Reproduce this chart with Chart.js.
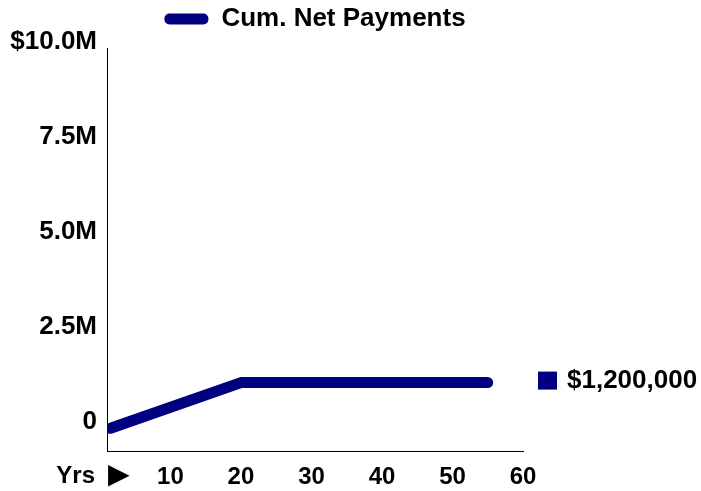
<!DOCTYPE html>
<html>
<head>
<meta charset="utf-8">
<script src="https://cdn.jsdelivr.net/npm/chart.js@4/dist/chart.umd.min.js"></script>
<style>
  html, body { margin: 0; padding: 0; background: #fff; }
  #wrap { width: 701px; height: 491px; }
</style>
</head>
<body>
<div id="wrap"><canvas id="c" width="701" height="491"></canvas></div>
<script>
const years = [1.5, 20, 55];
const cumNetPayments = [0, 1200000, 1200000];
const seriesLabel = 'Cum. Net Payments';
const xTicks = [1, 10, 20, 30, 40, 50, 60];
const xTickLabels = ['', '10', '20', '30', '40', '50', '60'];
const xAxisWord = 'Yrs';
const xAxisArrow = '\u25BA';
const yTicks = [0, 2500000, 5000000, 7500000, 10000000];
const yTickLabels = ['0', '2.5M', '5.0M', '7.5M', '$10.0M'];
const endLabel = '$1,200,000';

const NAVY = '#000080';
const FONT = '"Liberation Sans", Arial, sans-serif';

const extraTextPlugin = {
  id: 'extraText',
  afterDraw(chart) {
    const ctx = chart.ctx;
    const xs = chart.scales.x;
    const ys = chart.scales.y;
    const area = chart.chartArea;
    ctx.save();
    // end-of-series value label
    const v = cumNetPayments[cumNetPayments.length - 1];
    const py = ys.getPixelForValue(v) - 2;
    ctx.fillStyle = NAVY;
    ctx.fillRect(area.right + 15, py - 9, 19, 18);
    ctx.fillStyle = '#000';
    ctx.font = 'bold 26px ' + FONT;
    ctx.textBaseline = 'middle';
    ctx.textAlign = 'left';
    ctx.fillText(endLabel, area.right + 44, py);
    // "Yrs ►" at the start of the x axis
    const x0 = xs.getPixelForValue(xTicks[0]);
    const ty = area.bottom + 25;
    ctx.font = 'bold 24px ' + FONT;
    ctx.textAlign = 'right';
    ctx.fillText(xAxisWord, x0 - 12, ty);
    ctx.font = 'bold 36px ' + FONT;
    ctx.textAlign = 'left';
    ctx.fillText(xAxisArrow, x0 - 6, ty);
    ctx.restore();
  }
};

new Chart(document.getElementById('c'), {
  type: 'line',
  data: {
    datasets: [{
      label: seriesLabel,
      data: years.map((x, i) => ({ x: x, y: cumNetPayments[i] })),
      borderColor: NAVY,
      backgroundColor: NAVY,
      borderWidth: 11,
      borderCapStyle: 'round',
      borderJoinStyle: 'round',
      pointRadius: 0,
      fill: false,
      tension: 0
    }]
  },
  options: {
    responsive: false,
    animation: false,
    layout: { padding: { left: 0, right: 178, top: 0, bottom: 0 } },
    plugins: {
      title: {
        display: true,
        text: ' ',
        weight: 500,
        fullSize: false,
        font: { size: 1 },
        padding: { top: 0, bottom: 5 }
      },
      legend: {
        display: true,
        position: 'top',
        fullSize: false,
        labels: {
          boxWidth: 44,
          boxHeight: 11,
          useBorderRadius: true,
          borderRadius: 5,
          color: '#000',
          font: { family: FONT, size: 26, weight: 'bold' },
          padding: 6,
          generateLabels(chart) {
            const items = Chart.defaults.plugins.legend.labels.generateLabels(chart);
            items.forEach(it => { it.lineWidth = 0; it.fillStyle = NAVY; it.strokeStyle = NAVY; });
            return items;
          }
        }
      },
      tooltip: { enabled: false }
    },
    scales: {
      x: {
        type: 'linear',
        min: 1,
        max: 60,
        grid: { display: false, drawTicks: false },
        border: { display: true, color: '#000', width: 1 },
        afterBuildTicks(scale) { scale.ticks = xTicks.map(v => ({ value: v })); },
        afterFit(scale) { scale.height = 40; },
        ticks: {
          autoSkip: false,
          maxRotation: 0,
          padding: 12,
          color: '#000',
          font: { family: FONT, size: 24, weight: 'bold' },
          callback(value) { const i = xTicks.indexOf(value); return i >= 0 ? xTickLabels[i] : ''; }
        }
      },
      y: {
        type: 'linear',
        min: -600000,
        max: 10000000,
        grid: { display: false, drawTicks: false },
        border: { display: true, color: '#000', width: 1 },
        afterBuildTicks(scale) { scale.ticks = yTicks.map(v => ({ value: v })); },
        afterFit(scale) { scale.width = 107; },
        ticks: {
          autoSkip: false,
          padding: 10,
          labelOffset: -6,
          color: '#000',
          font: { family: FONT, size: 26, weight: 'bold' },
          callback(value) { const i = yTicks.indexOf(value); return i >= 0 ? yTickLabels[i] : ''; }
        }
      }
    }
  },
  plugins: [extraTextPlugin]
});
</script>
</body>
</html>
